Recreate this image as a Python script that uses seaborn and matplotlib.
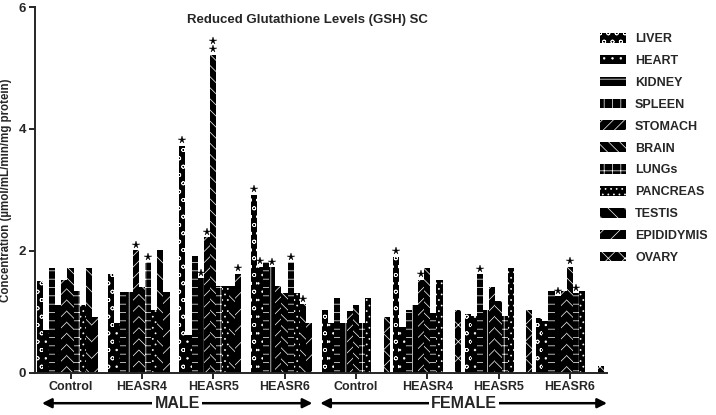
import numpy as np
import pandas as pd
import matplotlib
matplotlib.use("Agg")
import matplotlib.pyplot as plt
from matplotlib.patches import Patch
import seaborn as sns

# ---------------- data ----------------
organs = ["LIVER", "HEART", "KIDNEY", "SPLEEN", "STOMACH", "BRAIN",
          "LUNGs", "PANCREAS", "TESTIS", "EPIDIDYMIS", "OVARY"]
groups = ["Control", "HEASR4", "HEASR5", "HEASR6",
          "Control", "HEASR4", "HEASR5", "HEASR6"]
sexes = ["MALE"] * 4 + ["FEMALE"] * 4
nan = np.nan
male_control = [1.50, 0.70, 1.71, 1.11, 1.52, 1.71, 1.33, 1.11, 1.71, 0.91, nan]
male_heasr4 = [1.61, 0.81, 1.32, 1.32, 2.01, 1.41, 1.81, 1.02, 2.01, 1.32, nan]
male_heasr5 = [3.72, 0.62, 1.92, 1.55, 2.22, 5.22, 1.42, 1.42, 1.42, 1.62, nan]
male_heasr6 = [2.92, 1.74, 1.81, 1.73, 1.42, 1.31, 1.81, 1.31, 1.12, 0.82, nan]
female_control = [1.02, 0.81, 1.22, 0.81, 1.01, 1.11, 0.81, 1.22, nan, nan, 0.91]
female_heasr4 = [1.90, 0.75, 1.02, 1.11, 1.52, 1.71, 0.97, 1.52, nan, nan, 1.02]
female_heasr5 = [0.96, 0.93, 1.61, 1.02, 1.41, 1.18, 0.93, 1.72, nan, nan, 1.02]
female_heasr6 = [0.89, 0.85, 1.33, 1.25, 1.33, 1.74, 1.30, 1.33, nan, nan, 0.11]
group_values = [male_control, male_heasr4, male_heasr5, male_heasr6,
                female_control, female_heasr4, female_heasr5, female_heasr6]
# significance marks: (group index, organ index, number of stars)
stars = [(1, 4, 1), (1, 6, 1), (2, 0, 1), (2, 3, 1), (2, 4, 1), (2, 5, 2),
         (2, 9, 1), (3, 0, 1), (3, 1, 1), (3, 3, 1), (3, 6, 1), (3, 8, 1),
         (5, 0, 1), (5, 4, 1), (6, 2, 1), (7, 3, 1), (7, 5, 1), (7, 6, 1)]
hatches = ["oo", "..", "--", "||", "///", "\\\\\\", "++", "...",
           "\\\\", "//", "xx"]

keys = [f"{s} {g}" for s, g in zip(sexes, groups)]
rows = []
for k, vals in zip(keys, group_values):
    for o, v in zip(organs, vals):
        rows.append({"group": k, "organ": o, "value": v})
df = pd.DataFrame(rows)

# ---------------- style ----------------
sns.set_style("ticks")
plt.rcParams["font.family"] = ["Liberation Sans", "DejaVu Sans"]
plt.rcParams["hatch.linewidth"] = 0.5
plt.rcParams["hatch.color"] = "white"

fig = plt.figure(figsize=(7.16, 4.15), dpi=100)
ax = fig.add_axes([34.5 / 716, 42.5 / 415, (607 - 34.5) / 716, 365.5 / 415])

WIDTH = 0.95
sns.barplot(data=df, x="group", y="value", hue="organ", order=keys,
            hue_order=organs, errorbar=None, width=WIDTH, dodge=True,
            palette=["black"] * len(organs), legend=False, ax=ax)

nh = len(organs)
bw = WIDTH / nh
for patch in ax.patches:
    cx = patch.get_x() + patch.get_width() / 2
    gi = int(round(cx))
    si = int(np.floor((cx - gi + WIDTH / 2) / bw))
    si = max(0, min(nh - 1, si))
    patch.set_facecolor("black")
    patch.set_edgecolor("white")
    patch.set_linewidth(0)
    patch.set_hatch(hatches[si])

# stars
for gi, si, n in stars:
    x = gi - WIDTH / 2 + (si + 0.5) * bw
    y = group_values[gi][si]
    for j in range(n):
        ax.plot(x, y + 0.09 + j * 0.13, marker="*", color="black",
                markersize=5.5, markeredgewidth=0.3, linestyle="none", zorder=5)

ax.set_xlim(-0.505, 7.52)
ax.set_ylim(0, 6)
ax.set_yticks([0, 2, 4, 6])
ax.set_yticklabels(["0", "2", "4", "6"], fontsize=9.5, fontweight="bold")
ax.set_xticks(range(len(groups)))
ax.set_xticklabels(groups, fontsize=9, fontweight="bold")
ax.set_xlabel("")
ax.set_ylabel("Concentration (µmol/mL/min/mg protein)", fontsize=8.3,
              fontweight="bold", labelpad=5)
for side in ["top", "right"]:
    ax.spines[side].set_visible(False)
for side in ["left", "bottom"]:
    ax.spines[side].set_linewidth(1.4)
ax.tick_params(axis="both", width=1.4, length=4, pad=2)

ax.text(0.477, 0.965, "Reduced Glutathione Levels (GSH) SC", transform=ax.transAxes,
        ha="center", va="center", fontsize=9.5, fontweight="bold")

# sex arrows
trans = ax.get_xaxis_transform()
for x0, x1, lab in [(-0.40, 3.39, "MALE"), (3.50, 7.52, "FEMALE")]:
    ax.annotate("", xy=(x1, -0.084), xytext=(x0, -0.084), xycoords=trans,
                textcoords=trans, annotation_clip=False,
                arrowprops=dict(arrowstyle="<|-|>", lw=1.8, color="black",
                                mutation_scale=14, shrinkA=0, shrinkB=0))
    ax.text((x0 + x1) / 2, -0.084, lab, transform=trans, ha="center", va="center",
            fontsize=11.5, fontweight="bold", clip_on=False,
            bbox=dict(facecolor="white", edgecolor="none", pad=1.5))

handles = [Patch(facecolor="black", edgecolor="white", hatch=h, linewidth=0)
           for h in hatches]
fig.legend(handles, organs, loc="upper left",
           bbox_to_anchor=(600 / 716, 1 - 33 / 415), frameon=False,
           prop=dict(weight="bold", size=9), handlelength=2.1,
           handleheight=0.8, labelspacing=0.78, handletextpad=0.7,
           borderpad=0, borderaxespad=0)

fig.savefig("out.png", dpi=100)
